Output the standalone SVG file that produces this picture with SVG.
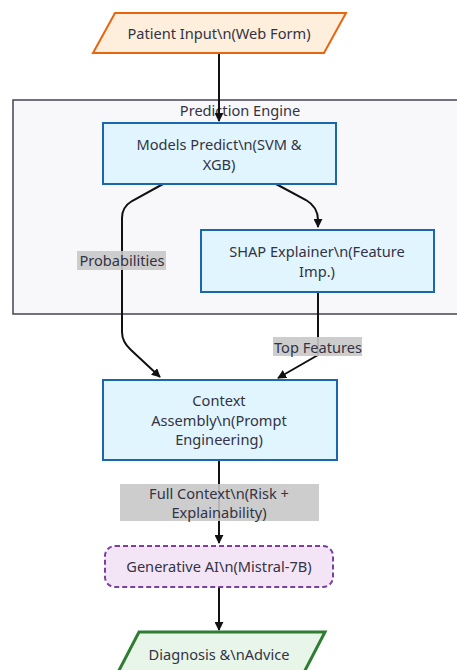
<svg xmlns="http://www.w3.org/2000/svg" width="457" height="670" viewBox="0 0 457 670">
<defs>
<marker id="arr" viewBox="0 0 10 10" refX="9" refY="5" markerWidth="9" markerHeight="9" orient="auto-start-reverse" markerUnits="userSpaceOnUse">
<path d="M0,0 L10,5 L0,10 z" fill="#111"/>
</marker>
</defs>
<style>
text{font-family:"Noto Sans","DejaVu Sans",sans-serif;font-size:14.6px;fill:#333344;text-anchor:middle;dominant-baseline:central}
.box{fill:#e1f5fe;stroke:#1a66b0;stroke-width:2}
.edge{fill:none;stroke:#111;stroke-width:2;marker-end:url(#arr)}
.lbl{fill:#c8c8c8;opacity:0.9}
</style>
<rect width="457" height="670" fill="#ffffff"/>
<g id="cluster-prediction">
<rect x="13" y="100" width="460" height="214" fill="#f8f8fb" stroke="#444455" stroke-width="1.5"/>
<text x="240" y="110">Prediction Engine</text>
</g>
<g id="connectors">
<path class="edge" d="M219,53 L219,121"/>
<path class="edge" d="M163,184 L132,201 Q122,207 122,218 L122,332 Q122,342 131,350 L160,377"/>
<path class="edge" d="M276,184 L306,200 Q318,207 318,220 L318,227"/>
<path class="edge" d="M318,292 L318,355 L278,378"/>
<path class="edge" d="M219,460 L219,543"/>
<path class="edge" d="M219,587 L219,630"/>
<rect class="lbl" x="77" y="251" width="89" height="19"/>
<text x="122" y="260">Probabilities</text>
<rect class="lbl" x="273" y="337" width="89" height="19"/>
<text x="318" y="347">Top Features</text>
<rect class="lbl" x="120" y="484" width="199" height="37"/>
<text x="219" y="493">Full Context\n(Risk +</text>
<text x="219" y="512">Explainability)</text>
</g>
<g id="patient-input">
<polygon points="115,13 346,13 324,53 93,53" fill="#fdefdc" stroke="#e8650f" stroke-width="2"/>
<text x="219" y="33">Patient Input\n(Web Form)</text>
</g>
<g id="models-predict">
<rect class="box" x="103" y="123" width="233" height="61"/>
<text x="219" y="144">Models Predict\n(SVM &amp;</text>
<text x="219" y="164">XGB)</text>
</g>
<g id="shap-explainer">
<rect class="box" x="201" y="230" width="233" height="62"/>
<text x="317" y="251">SHAP Explainer\n(Feature</text>
<text x="317" y="271">Imp.)</text>
</g>
<g id="context-assembly">
<rect class="box" x="103" y="380" width="234" height="80"/>
<text x="219" y="400">Context</text>
<text x="219" y="420">Assembly\n(Prompt</text>
<text x="219" y="439">Engineering)</text>
</g>
<g id="generative-ai">
<rect x="105" y="546" width="228" height="41" rx="10" fill="#f3e5f5" stroke="#7b3fa0" stroke-width="2" stroke-dasharray="5,3"/>
<text x="219" y="566">Generative AI\n(Mistral-7B)</text>
</g>
<g id="diagnosis">
<polygon points="139,632 325,632 300,680 114,680" fill="#e8f5e9" stroke="#2e7d32" stroke-width="3"/>
<text x="219" y="654">Diagnosis &amp;\nAdvice</text>
</g>
</svg>
